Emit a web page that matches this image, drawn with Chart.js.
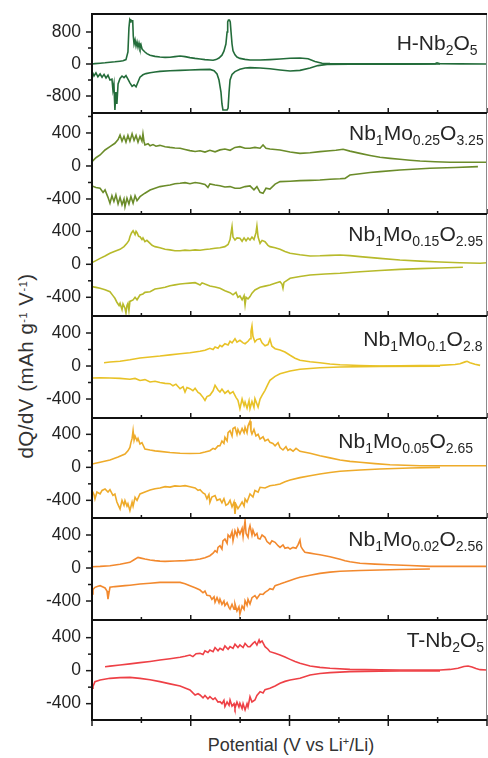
<!DOCTYPE html>
<html><head><meta charset="utf-8">
<script src="https://cdn.jsdelivr.net/npm/chart.js@4.4.1/dist/chart.umd.min.js"></script>
<style>
html,body{margin:0;padding:0;background:#fff;}
#wrap{position:relative;width:488px;height:758px;overflow:hidden;font-family:"Liberation Sans",Arial,sans-serif;color:#262626;}
#wrap canvas{position:absolute;left:0;}
.lbl{position:absolute;font-size:21px;line-height:21px;white-space:nowrap;}
.lbl span{font-size:14px;position:relative;top:5px;}
#xt{position:absolute;left:291px;top:736px;transform:translateX(-50%);font-size:18px;line-height:18px;white-space:nowrap;color:#333;}
#yt{position:absolute;left:25px;top:366px;transform:translate(-50%,-50%) rotate(-90deg);font-size:20.5px;letter-spacing:0.5px;line-height:21px;white-space:nowrap;color:#333;}
sup{font-size:11px;line-height:0;vertical-align:6px;}
</style></head>
<body><div id="wrap"><div id="xt">Potential (V vs Li<sup>+</sup>/Li)</div><div id="yt">dQ/dV (mAh g<sup>-1</sup> V<sup>-1</sup>)</div></div>
<script>
// ---------- data (potential V, dQ/dV mAh g-1 V-1) ----------
const potentialRange = [1.0, 3.0];
const xMajorTicks = [1.0, 1.5, 2.0, 2.5, 3.0];
const xMinorTicks = [1.25, 1.75, 2.25, 2.75];
const sampleNames = ['H-Nb_2O_5','Nb_1Mo_0.25O_3.25','Nb_1Mo_0.15O_2.95','Nb_1Mo_0.1O_2.8','Nb_1Mo_0.05O_2.65','Nb_1Mo_0.02O_2.56','T-Nb_2O_5'];
const yTickLabelsH = [-800, 0, 800];
const yMinorTicksH = [-1200, -400, 400, 1200];
const yTickLabels = [-400, 0, 400];
const yMinorTicks = [-600, -200, 200, 600];

const hCharge = [[1.000,0],[1.015,10],[1.041,20],[1.066,30],[1.091,45],[1.116,55],[1.142,70],[1.157,80],[1.172,110],[1.182,300],[1.187,900],[1.191,1100],[1.195,1050],[1.197,1100],[1.203,1080],[1.206,1100],[1.209,700],[1.213,500],[1.218,600],[1.223,450],[1.228,550],[1.233,420],[1.238,520],[1.243,400],[1.248,480],[1.253,380],[1.258,350],[1.268,300],[1.278,260],[1.294,220],[1.319,190],[1.344,175],[1.370,165],[1.395,170],[1.420,185],[1.446,200],[1.471,185],[1.496,160],[1.522,140],[1.547,125],[1.572,110],[1.597,100],[1.613,95],[1.628,110],[1.643,150],[1.658,220],[1.668,320],[1.678,500],[1.684,800],[1.687,1050],[1.691,1100],[1.696,1100],[1.700,1050],[1.704,800],[1.709,500],[1.714,330],[1.724,230],[1.734,175],[1.749,140],[1.775,115],[1.800,100],[1.851,100],[1.901,110],[1.952,125],[2.003,145],[2.053,150],[2.094,130],[2.129,60],[2.165,20],[2.205,10],[2.306,5],[2.458,3],[2.661,2],[2.737,5],[2.747,30],[2.762,5],[2.863,2],[3.000,0]];
const hDischarge = [[1.000,-180],[1.010,-300],[1.020,-220],[1.030,-320],[1.041,-250],[1.051,-330],[1.061,-260],[1.071,-350],[1.081,-280],[1.091,-400],[1.101,-380],[1.106,-650],[1.111,-500],[1.116,-1150],[1.121,-700],[1.126,-1000],[1.132,-500],[1.142,-360],[1.152,-300],[1.162,-340],[1.172,-290],[1.182,-380],[1.192,-470],[1.203,-560],[1.213,-520],[1.223,-570],[1.233,-450],[1.243,-330],[1.258,-270],[1.273,-240],[1.294,-220],[1.319,-200],[1.344,-185],[1.395,-170],[1.446,-160],[1.496,-150],[1.547,-140],[1.597,-135],[1.618,-170],[1.633,-250],[1.643,-400],[1.653,-700],[1.658,-1000],[1.663,-1150],[1.673,-1150],[1.684,-1150],[1.689,-1100],[1.694,-700],[1.699,-400],[1.709,-260],[1.724,-190],[1.749,-130],[1.775,-100],[1.800,-90],[1.851,-100],[1.901,-120],[1.952,-150],[2.003,-175],[2.053,-160],[2.104,-100],[2.144,-40],[2.190,-10],[2.306,-5],[2.559,-2],[2.762,0]];

const mo025Charge = [[1.000,52],[1.020,100],[1.041,133],[1.066,194],[1.091,234],[1.116,275],[1.132,320],[1.142,376],[1.152,300],[1.162,360],[1.172,290],[1.182,370],[1.192,300],[1.203,390],[1.213,310],[1.223,370],[1.233,290],[1.243,360],[1.253,300],[1.258,388],[1.263,300],[1.268,254],[1.284,270],[1.294,245],[1.309,260],[1.324,240],[1.344,250],[1.370,234],[1.395,225],[1.420,218],[1.446,214],[1.471,200],[1.496,186],[1.522,175],[1.547,185],[1.572,168],[1.597,190],[1.623,172],[1.648,195],[1.673,205],[1.699,190],[1.724,225],[1.749,234],[1.775,215],[1.800,214],[1.825,225],[1.851,215],[1.866,254],[1.881,215],[1.901,205],[1.927,200],[1.952,194],[2.003,170],[2.053,153],[2.104,160],[2.154,174],[2.205,185],[2.235,190],[2.271,202],[2.306,180],[2.357,153],[2.408,128],[2.458,105],[2.509,92],[2.559,81],[2.610,70],[2.661,61],[2.737,52],[2.813,45],[2.914,45],[3.000,45]];
const mo025Discharge = [[1.000,-242],[1.020,-260],[1.041,-270],[1.056,-320],[1.066,-290],[1.081,-380],[1.091,-452],[1.101,-360],[1.111,-430],[1.121,-350],[1.132,-460],[1.142,-380],[1.152,-470],[1.162,-400],[1.167,-493],[1.177,-390],[1.187,-460],[1.197,-370],[1.208,-450],[1.218,-360],[1.228,-420],[1.243,-372],[1.268,-330],[1.294,-291],[1.319,-270],[1.344,-250],[1.370,-240],[1.395,-230],[1.420,-215],[1.446,-210],[1.471,-202],[1.496,-215],[1.522,-200],[1.547,-210],[1.572,-225],[1.587,-260],[1.597,-218],[1.623,-230],[1.648,-240],[1.673,-255],[1.699,-250],[1.724,-270],[1.749,-270],[1.775,-250],[1.800,-242],[1.820,-290],[1.835,-250],[1.851,-320],[1.866,-331],[1.881,-270],[1.901,-280],[1.927,-220],[1.952,-190],[2.003,-185],[2.053,-178],[2.104,-175],[2.154,-170],[2.205,-160],[2.256,-155],[2.281,-150],[2.306,-109],[2.357,-95],[2.408,-80],[2.458,-69],[2.559,-48],[2.711,-28],[2.838,-18],[2.954,-8]];

const mo015Charge = [[1.000,20],[1.020,45],[1.041,72],[1.066,100],[1.091,133],[1.116,158],[1.142,182],[1.162,215],[1.177,254],[1.187,290],[1.192,335],[1.200,380],[1.208,407],[1.218,360],[1.223,400],[1.228,383],[1.236,340],[1.243,335],[1.253,300],[1.258,320],[1.268,274],[1.278,290],[1.294,254],[1.304,230],[1.319,214],[1.344,200],[1.370,182],[1.395,175],[1.420,165],[1.446,165],[1.471,172],[1.496,168],[1.522,175],[1.547,170],[1.572,180],[1.597,185],[1.623,194],[1.648,200],[1.673,214],[1.689,240],[1.699,300],[1.704,380],[1.709,456],[1.714,330],[1.724,295],[1.734,320],[1.749,315],[1.760,280],[1.770,320],[1.780,285],[1.790,320],[1.800,295],[1.810,330],[1.820,300],[1.830,380],[1.835,464],[1.841,330],[1.851,254],[1.861,290],[1.876,274],[1.891,230],[1.901,214],[1.927,200],[1.952,182],[1.977,155],[2.003,133],[2.053,115],[2.104,101],[2.154,103],[2.205,108],[2.256,113],[2.306,105],[2.357,93],[2.458,72],[2.559,52],[2.661,38],[2.762,28],[2.863,18],[2.965,12],[3.000,18]];
const mo015Discharge = [[1.000,-271],[1.020,-280],[1.041,-291],[1.066,-310],[1.091,-332],[1.106,-380],[1.116,-412],[1.126,-460],[1.137,-500],[1.142,-473],[1.152,-550],[1.157,-480],[1.167,-533],[1.172,-590],[1.177,-500],[1.182,-473],[1.187,-560],[1.192,-450],[1.208,-432],[1.218,-400],[1.228,-430],[1.243,-372],[1.258,-360],[1.268,-340],[1.294,-332],[1.319,-300],[1.344,-290],[1.370,-279],[1.395,-260],[1.420,-250],[1.446,-239],[1.471,-232],[1.496,-228],[1.522,-223],[1.537,-240],[1.547,-251],[1.557,-225],[1.572,-240],[1.597,-263],[1.623,-275],[1.648,-291],[1.673,-320],[1.699,-344],[1.714,-370],[1.729,-340],[1.739,-400],[1.749,-384],[1.760,-430],[1.770,-380],[1.775,-493],[1.780,-400],[1.790,-420],[1.800,-392],[1.810,-350],[1.825,-311],[1.851,-279],[1.876,-265],[1.901,-251],[1.927,-230],[1.952,-211],[1.962,-240],[1.967,-291],[1.972,-220],[2.003,-170],[2.053,-148],[2.104,-130],[2.180,-118],[2.256,-109],[2.357,-90],[2.458,-75],[2.559,-61],[2.661,-52],[2.762,-45],[2.878,-36]];

const mo01Charge = [[1.061,40],[1.091,48],[1.142,57],[1.192,75],[1.243,97],[1.294,110],[1.344,121],[1.395,135],[1.446,149],[1.496,160],[1.547,178],[1.572,190],[1.597,215],[1.613,200],[1.623,230],[1.638,215],[1.648,250],[1.658,235],[1.673,270],[1.689,255],[1.699,300],[1.709,280],[1.724,331],[1.734,290],[1.749,311],[1.765,280],[1.775,270],[1.790,300],[1.800,330],[1.805,420],[1.810,485],[1.815,360],[1.825,291],[1.835,320],[1.851,331],[1.861,280],[1.876,245],[1.891,260],[1.901,323],[1.911,240],[1.927,210],[1.952,195],[1.977,170],[2.003,130],[2.028,95],[2.053,69],[2.104,52],[2.154,40],[2.205,25],[2.256,16],[2.357,6],[2.458,0],[2.559,2],[2.661,5],[2.762,8],[2.838,18],[2.863,28],[2.889,50],[2.899,57],[2.914,40],[2.939,22],[2.965,8]];
const mo01Discharge = [[1.000,-145],[1.041,-143],[1.091,-145],[1.142,-150],[1.192,-161],[1.218,-150],[1.243,-175],[1.268,-165],[1.294,-194],[1.319,-185],[1.344,-200],[1.370,-210],[1.395,-214],[1.410,-240],[1.425,-220],[1.446,-275],[1.461,-250],[1.471,-315],[1.481,-260],[1.496,-275],[1.511,-300],[1.522,-270],[1.537,-320],[1.547,-335],[1.562,-380],[1.572,-416],[1.582,-370],[1.597,-355],[1.613,-300],[1.623,-234],[1.638,-290],[1.648,-315],[1.658,-280],[1.673,-330],[1.689,-300],[1.699,-335],[1.714,-310],[1.729,-380],[1.739,-416],[1.749,-517],[1.760,-400],[1.770,-480],[1.775,-436],[1.785,-510],[1.795,-420],[1.800,-517],[1.810,-430],[1.820,-500],[1.825,-396],[1.835,-460],[1.841,-497],[1.851,-400],[1.861,-355],[1.876,-295],[1.891,-220],[1.901,-173],[1.927,-125],[1.952,-93],[2.003,-60],[2.053,-40],[2.154,-22],[2.256,-12],[2.458,-4],[2.762,-2]];

const mo005Charge = [[1.000,40],[1.041,62],[1.091,89],[1.132,125],[1.167,161],[1.182,200],[1.192,242],[1.197,300],[1.203,350],[1.208,444],[1.213,330],[1.218,380],[1.228,323],[1.233,350],[1.243,283],[1.253,300],[1.268,222],[1.294,210],[1.319,200],[1.344,194],[1.395,180],[1.446,170],[1.496,168],[1.547,170],[1.572,185],[1.597,202],[1.613,230],[1.623,220],[1.638,260],[1.648,262],[1.658,320],[1.668,290],[1.673,364],[1.684,320],[1.689,420],[1.699,444],[1.709,380],[1.714,470],[1.724,485],[1.734,400],[1.739,460],[1.749,404],[1.760,470],[1.770,420],[1.775,485],[1.785,420],[1.790,500],[1.800,558],[1.805,440],[1.810,404],[1.820,460],[1.830,380],[1.841,400],[1.851,343],[1.866,370],[1.876,320],[1.891,340],[1.901,303],[1.916,290],[1.927,262],[1.942,300],[1.952,240],[1.967,210],[1.982,250],[1.992,205],[2.003,222],[2.018,195],[2.033,230],[2.053,194],[2.104,170],[2.154,141],[2.205,115],[2.256,89],[2.306,72],[2.357,61],[2.433,45],[2.509,32],[2.585,25],[2.661,20],[2.762,20],[2.863,20],[3.000,20]];
const mo005Discharge = [[1.000,-283],[1.010,-330],[1.015,-384],[1.025,-300],[1.041,-323],[1.051,-280],[1.066,-263],[1.081,-300],[1.091,-270],[1.106,-340],[1.116,-323],[1.126,-420],[1.137,-480],[1.142,-505],[1.152,-400],[1.162,-460],[1.167,-404],[1.177,-470],[1.182,-440],[1.192,-525],[1.203,-420],[1.208,-470],[1.218,-364],[1.228,-400],[1.243,-323],[1.268,-300],[1.294,-275],[1.319,-260],[1.344,-250],[1.370,-234],[1.395,-240],[1.420,-225],[1.446,-230],[1.471,-222],[1.496,-235],[1.522,-250],[1.537,-280],[1.547,-270],[1.562,-310],[1.572,-323],[1.582,-380],[1.592,-330],[1.597,-424],[1.607,-360],[1.623,-343],[1.633,-400],[1.648,-384],[1.658,-430],[1.668,-380],[1.678,-460],[1.689,-444],[1.699,-400],[1.709,-480],[1.719,-420],[1.724,-566],[1.729,-450],[1.739,-500],[1.749,-464],[1.760,-420],[1.770,-470],[1.775,-384],[1.785,-420],[1.800,-323],[1.815,-360],[1.825,-280],[1.841,-300],[1.851,-242],[1.876,-250],[1.901,-222],[1.927,-215],[1.952,-202],[1.977,-175],[2.003,-154],[2.053,-125],[2.104,-101],[2.154,-80],[2.205,-62],[2.256,-48],[2.357,-32],[2.458,-20],[2.610,-8],[2.762,0]];

const mo002Charge = [[1.000,16],[1.041,20],[1.091,28],[1.142,45],[1.192,69],[1.213,100],[1.233,129],[1.248,120],[1.268,109],[1.294,98],[1.319,90],[1.344,84],[1.370,81],[1.420,85],[1.471,89],[1.522,100],[1.547,109],[1.572,125],[1.597,149],[1.613,180],[1.623,210],[1.633,190],[1.638,250],[1.648,270],[1.658,230],[1.663,330],[1.673,351],[1.684,300],[1.689,400],[1.699,372],[1.709,440],[1.714,330],[1.724,452],[1.734,390],[1.739,470],[1.749,412],[1.760,480],[1.765,380],[1.775,573],[1.780,420],[1.790,372],[1.795,470],[1.800,513],[1.810,400],[1.815,460],[1.825,392],[1.835,420],[1.841,360],[1.851,351],[1.861,400],[1.876,372],[1.886,320],[1.901,291],[1.911,330],[1.927,311],[1.942,270],[1.952,250],[1.967,280],[1.977,240],[1.992,250],[2.003,230],[2.018,250],[2.033,240],[2.043,280],[2.053,339],[2.058,260],[2.068,220],[2.078,190],[2.104,180],[2.129,170],[2.154,160],[2.205,137],[2.256,105],[2.281,89],[2.306,75],[2.357,57],[2.433,47],[2.509,40],[2.610,30],[2.711,20],[2.863,20],[3.000,20]];
const mo002Discharge = [[1.000,-315],[1.005,-260],[1.015,-234],[1.030,-220],[1.041,-214],[1.056,-230],[1.066,-242],[1.076,-280],[1.081,-376],[1.086,-300],[1.091,-234],[1.116,-225],[1.142,-220],[1.167,-214],[1.192,-208],[1.243,-194],[1.294,-185],[1.344,-174],[1.395,-172],[1.446,-174],[1.471,-190],[1.496,-214],[1.522,-240],[1.547,-267],[1.562,-300],[1.572,-280],[1.582,-330],[1.597,-335],[1.607,-380],[1.618,-350],[1.623,-416],[1.633,-360],[1.643,-420],[1.648,-376],[1.658,-440],[1.668,-400],[1.673,-456],[1.684,-420],[1.694,-480],[1.699,-497],[1.709,-440],[1.719,-500],[1.724,-436],[1.734,-520],[1.744,-470],[1.749,-557],[1.760,-460],[1.770,-500],[1.775,-396],[1.785,-450],[1.790,-380],[1.800,-436],[1.810,-360],[1.825,-335],[1.835,-370],[1.851,-315],[1.866,-320],[1.876,-295],[1.891,-270],[1.901,-250],[1.916,-260],[1.927,-214],[1.952,-195],[1.977,-174],[2.003,-150],[2.028,-130],[2.053,-113],[2.104,-88],[2.154,-65],[2.205,-50],[2.256,-40],[2.357,-30],[2.458,-24],[2.559,-18],[2.711,-12]];

const tCharge = [[1.066,48],[1.091,55],[1.142,69],[1.192,82],[1.243,97],[1.294,112],[1.344,129],[1.395,145],[1.446,162],[1.471,175],[1.496,190],[1.511,170],[1.527,205],[1.547,210],[1.562,195],[1.572,240],[1.587,220],[1.597,250],[1.613,230],[1.623,280],[1.638,240],[1.648,271],[1.663,250],[1.673,300],[1.689,260],[1.699,291],[1.714,270],[1.724,320],[1.739,280],[1.749,311],[1.765,280],[1.775,330],[1.790,290],[1.800,291],[1.815,330],[1.825,351],[1.835,310],[1.846,372],[1.851,340],[1.861,360],[1.876,291],[1.891,260],[1.901,230],[1.927,210],[1.952,190],[1.977,165],[2.003,137],[2.028,110],[2.053,89],[2.104,57],[2.154,40],[2.205,29],[2.306,16],[2.458,10],[2.559,8],[2.762,8],[2.813,15],[2.853,30],[2.883,50],[2.904,57],[2.924,45],[2.944,25],[2.965,12],[3.000,8]];
const tDischarge = [[1.000,-214],[1.005,-190],[1.015,-133],[1.041,-113],[1.091,-93],[1.142,-85],[1.192,-81],[1.243,-93],[1.294,-110],[1.344,-133],[1.395,-160],[1.446,-186],[1.471,-210],[1.496,-234],[1.511,-270],[1.522,-295],[1.537,-280],[1.547,-295],[1.562,-330],[1.572,-300],[1.587,-340],[1.597,-315],[1.613,-350],[1.623,-330],[1.638,-380],[1.648,-376],[1.658,-400],[1.668,-360],[1.673,-436],[1.684,-380],[1.694,-420],[1.699,-355],[1.709,-430],[1.719,-400],[1.724,-456],[1.734,-380],[1.744,-440],[1.749,-396],[1.760,-460],[1.765,-400],[1.775,-476],[1.785,-400],[1.790,-440],[1.800,-315],[1.810,-380],[1.825,-355],[1.835,-300],[1.851,-254],[1.866,-270],[1.876,-230],[1.901,-214],[1.927,-185],[1.952,-153],[1.977,-130],[2.003,-113],[2.053,-93],[2.104,-52],[2.154,-35],[2.205,-24],[2.306,-12],[2.458,-6],[2.559,-4],[2.762,-2]];

const chargeCurves = [hCharge, mo025Charge, mo015Charge, mo01Charge, mo005Charge, mo002Charge, tCharge];
const dischargeCurves = [hDischarge, mo025Discharge, mo015Discharge, mo01Discharge, mo005Discharge, mo002Discharge, tDischarge];

// ---------- styling / layout ----------
const colors = ['#236c3a','#6b8c2a','#b7ba2b','#e8c227','#eeab2a','#f2892e','#ee4046'];
const yRanges = [[-1225,1250],[-582,642],[-627,610],[-630,606],[-614,598],[-630,606],[-598,614]];
const panelEdges = [14,113,214,316,418,518,620,720];
const labelPos = [[396.7,50],[349,140],[348.3,241],[363.3,345.5],[338.3,447.3],[348.3,545.7],[406.7,646.7]];
const TICK_FONT = {family:'"Liberation Sans", Arial, sans-serif', size:17.5};

const framePlugin = {
  id:'frame',
  afterDraw(chart, args, o){
    const ctx = chart.ctx, a = chart.chartArea, x = chart.scales.x, y = chart.scales.y;
    const ln = (x1,y1,x2,y2)=>{ctx.beginPath();ctx.moveTo(x1,y1);ctx.lineTo(x2,y2);ctx.stroke();};
    ctx.save();
    ctx.strokeStyle = '#1a1a1a';
    ctx.lineWidth = 1.5;
    o.major.forEach(v=>{const p=y.getPixelForValue(v); ln(a.left-6,p,a.left,p);});
    o.minor.forEach(v=>{const p=y.getPixelForValue(v); if(p<a.top+3||p>a.bottom-3) return; ln(a.left-4,p,a.left,p);});
    xMajorTicks.forEach(v=>{const p=x.getPixelForValue(v); ln(p,a.bottom-5,p,a.bottom+(o.last?6:0));});
    xMinorTicks.forEach(v=>{const p=x.getPixelForValue(v); ln(p,a.bottom-3,p,a.bottom+(o.last?3:0));});
    ctx.strokeStyle = '#8a8a8a'; ctx.lineWidth = 1;
    ln(a.right-0.5,a.top,a.right-0.5,a.bottom);
    ctx.strokeStyle = '#111'; ctx.lineWidth = 2;
    ln(a.left-1,a.top,a.right,a.top);
    ln(a.left-1,a.bottom,a.right,a.bottom);
    ln(a.left,a.top-1,a.left,a.bottom+1);
    ctx.restore();
  }
};

const wrap = document.getElementById('wrap');
const toXY = arr => arr.map(p=>({x:p[0], y:p[1]}));

for (let i=0;i<7;i++){
  const last = i===6;
  const padTop = 3, padBottom = last?10:3;
  const top = panelEdges[i]-padTop;
  const h = panelEdges[i+1]-panelEdges[i]+padTop+padBottom;
  const cv = document.createElement('canvas');
  cv.width = 488; cv.height = h;
  cv.style.top = top+'px'; cv.style.width='488px'; cv.style.height=h+'px';
  wrap.appendChild(cv);
  const isH = i===0;
  const major = isH?yTickLabelsH:yTickLabels;
  const minor = isH?yMinorTicksH:yMinorTicks;
  new Chart(cv, {
    type:'line',
    data:{datasets:[
      {data:toXY(chargeCurves[i]), borderColor:colors[i], borderWidth:1.6, pointRadius:0, tension:0, fill:false},
      {data:toXY(dischargeCurves[i]), borderColor:colors[i], borderWidth:1.6, pointRadius:0, tension:0, fill:false}
    ]},
    options:{
      responsive:false, animation:false, devicePixelRatio:1,
      layout:{padding:{left:0,right:1,top:padTop,bottom:padBottom}},
      scales:{
        x:{type:'linear', min:potentialRange[0], max:potentialRange[1], display:false},
        y:{type:'linear', min:yRanges[i][0], max:yRanges[i][1],
           afterBuildTicks:(s)=>{s.ticks = major.map(v=>({value:v}));},
           afterFit:(s)=>{s.width = 92; s.paddingTop = 0; s.paddingBottom = 0;},
           grid:{display:false, drawTicks:false}, border:{display:false},
           ticks:{font:TICK_FONT, color:'#222', padding:11, autoSkip:false, callback:(v)=>String(v)}}
      },
      plugins:{legend:{display:false}, tooltip:{enabled:false}, frame:{major, minor, last}}
    },
    plugins:[framePlugin]
  });
  const lb = document.createElement('div');
  lb.className='lbl';
  lb.innerHTML = sampleNames[i].replace(/_([0-9.]+)/g,'<span>$1</span>');
  lb.style.left = labelPos[i][0]+'px';
  lb.style.top = (labelPos[i][1]-17.8)+'px';
  wrap.appendChild(lb);
}
</script>
</body></html>
